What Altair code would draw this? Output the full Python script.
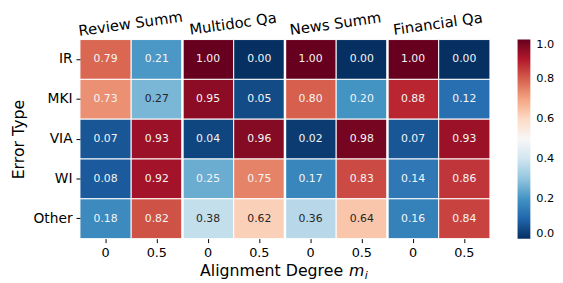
import altair as alt
import pandas as pd

groups = ["Review Summ", "Multidoc Qa", "News Summ", "Financial Qa"]
degrees = ["0", "0.5"]
rows = ["IR", "MKI", "VIA", "WI", "Other"]
values = {
    "IR":    [0.79, 0.21, 1.00, 0.00, 1.00, 0.00, 1.00, 0.00],
    "MKI":   [0.73, 0.27, 0.95, 0.05, 0.80, 0.20, 0.88, 0.12],
    "VIA":   [0.07, 0.93, 0.04, 0.96, 0.02, 0.98, 0.07, 0.93],
    "WI":    [0.08, 0.92, 0.25, 0.75, 0.17, 0.83, 0.14, 0.86],
    "Other": [0.18, 0.82, 0.38, 0.62, 0.36, 0.64, 0.16, 0.84],
}
rdbu_r = ["#053061", "#2166ac", "#4393c3", "#92c5de", "#d1e5f0", "#f7f7f7",
          "#fddbc7", "#f4a582", "#d6604d", "#b2182b", "#67001f"]
stops = [i / 10 for i in range(11)]

cols = [f"{g}|{d}" for g in groups for d in degrees]
recs = []
for r in rows:
    for c, v in zip(cols, values[r]):
        recs.append({"row": r, "col": c, "value": v})
df = pd.DataFrame(recs)
gdf = pd.DataFrame({"group": groups, "col": [f"{g}|0" for g in groups]})
bdf = gdf.iloc[1:].copy()

W, H = 416, 202
xscale = alt.Scale(domain=cols, paddingInner=0, paddingOuter=0)
yscale = alt.Scale(domain=rows, paddingInner=0, paddingOuter=0)

base = alt.Chart(df)
rect = base.mark_rect(stroke="white", strokeWidth=1).encode(
    x=alt.X("col:N", scale=xscale, sort=cols,
            axis=alt.Axis(title=None, labelExpr="split(datum.label,'|')[1]",
                          labelAngle=0, labelFontSize=13, labelColor="black",
                          tickColor="black", tickSize=4, domain=False,
                          labelPadding=4)),
    y=alt.Y("row:N", scale=yscale, sort=rows,
            axis=alt.Axis(title="Error Type", titleFontSize=16, titleFontWeight="normal",
                          titleColor="black", labelFontSize=14, labelColor="black",
                          tickColor="black", tickSize=4, domain=False,
                          labelPadding=4, titlePadding=7)),
    color=alt.Color("value:Q",
                    scale=alt.Scale(domain=stops, range=rdbu_r, interpolate="rgb"),
                    legend=alt.Legend(title=None, values=[0, 0.2, 0.4, 0.6, 0.8, 1.0],
                                      format=".1f", gradientLength=H, gradientThickness=13,
                                      labelFontSize=11.5, labelColor="black", offset=28,
                                      gradientStrokeWidth=0, labelOffset=6,
                                      labelBaseline="middle", labelOverlap=False)),
)
txt = base.mark_text(fontSize=11).encode(
    x=alt.X("col:N", scale=xscale, sort=cols),
    y=alt.Y("row:N", scale=yscale, sort=rows),
    text=alt.Text("value:Q", format=".2f"),
    color=alt.condition("datum.value > 0.26 && datum.value < 0.7",
                        alt.value("#262626"), alt.value("#f5f5f5")),
)
borders = alt.Chart(bdf).mark_rule(color="white", strokeWidth=2.5).encode(
    x=alt.X("col:N", scale=xscale, sort=cols, bandPosition=0),
    y=alt.value(0), y2=alt.value(H),
)
gtitles = alt.Chart(gdf).mark_text(fontSize=15, angle=352, baseline="alphabetic",
                                   color="black").encode(
    x=alt.X("col:N", scale=xscale, sort=cols, bandPosition=1),
    y=alt.value(-11),
    text="group:N",
)
xt1 = alt.Chart(gdf.iloc[:1]).mark_text(fontSize=16, align="right", baseline="alphabetic",
                                        color="black").encode(
    x=alt.value(267), y=alt.value(240), text=alt.value("Alignment Degree"))
xt2 = alt.Chart(gdf.iloc[:1]).mark_text(fontSize=16, align="left", baseline="alphabetic",
                                        fontStyle="italic", color="black").encode(
    x=alt.value(273), y=alt.value(240), text=alt.value("m"))
xt3 = alt.Chart(gdf.iloc[:1]).mark_text(fontSize=11, align="left", baseline="alphabetic",
                                        fontStyle="italic", color="black").encode(
    x=alt.value(289), y=alt.value(243), text=alt.value("i"))

chart = alt.layer(rect, txt, borders, gtitles, xt1, xt2, xt3).properties(
    width=W, height=H,
    autosize=alt.AutoSizeParams(type="none"),
    padding={"left": 73, "top": 30, "right": 66, "bottom": 43},
).configure(font="DejaVu Sans").configure_view(stroke=None)

chart.save("out.html", embed_options={"renderer": "svg", "actions": False})
